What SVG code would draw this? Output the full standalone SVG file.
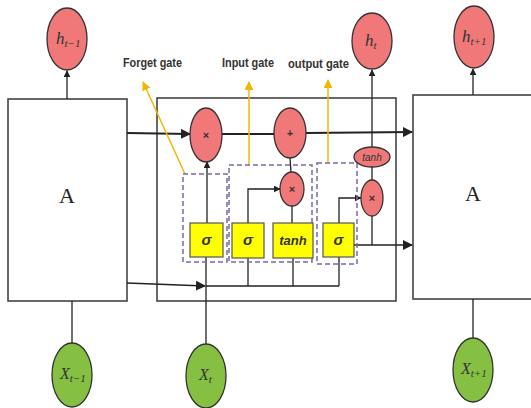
<svg xmlns="http://www.w3.org/2000/svg" width="531" height="408" viewBox="0 0 531 408">
<defs>
<marker id="ah" viewBox="0 0 10 10" refX="9" refY="5" markerWidth="7" markerHeight="7" markerUnits="userSpaceOnUse" orient="auto"><path d="M0,0 L10,5 L0,10 z" fill="#222"/></marker>
<marker id="ahl" viewBox="0 0 10 10" refX="9" refY="5" markerWidth="10" markerHeight="10" markerUnits="userSpaceOnUse" orient="auto"><path d="M0,0 L10,5 L0,10 z" fill="#222"/></marker>
<marker id="ay" viewBox="0 0 10 10" refX="9" refY="5" markerWidth="9" markerHeight="9" markerUnits="userSpaceOnUse" orient="auto"><path d="M0,0 L10,5 L0,10 z" fill="#F2B705"/></marker>
<style>
.box{fill:#fff;stroke:#444;stroke-width:1.6}
.red{fill:#F07878;stroke:#333;stroke-width:1.3}
.grn{fill:#86C043;stroke:#333;stroke-width:1.3}
.yel{fill:#FFFF00;stroke:#555;stroke-width:1.2}
.dash{fill:none;stroke:#7B68A6;stroke-width:1.5;stroke-dasharray:5,3}
.ln{fill:none;stroke:#222;stroke-width:1.3}
.thick{fill:none;stroke:#222;stroke-width:2}
.yl{fill:none;stroke:#F2B705;stroke-width:1.5}
.lbl{font-family:"Liberation Sans",Arial,sans-serif;font-size:13px;fill:#333;font-weight:bold}
.var{font-family:"Liberation Serif","Times New Roman",serif;font-style:italic;fill:#333}
.big{font-family:"Liberation Serif","Times New Roman",serif;font-size:22px;fill:#222}
.g{font-family:"Liberation Sans",Arial,sans-serif;font-style:italic;font-weight:bold;fill:#333}
.op{font-family:"Liberation Sans",Arial,sans-serif;font-weight:bold;font-size:11px;fill:#333}
</style>
</defs>
<g id="boxA1"><rect class="box" x="8" y="99" width="119" height="202"/><text class="big" x="67" y="203" text-anchor="middle">A</text></g>
<g id="cell"><rect class="box" x="157" y="98" width="239" height="203"/></g>
<g id="boxA2"><rect class="box" x="413" y="95" width="125" height="204"/><text class="big" x="473" y="201" text-anchor="middle">A</text></g>

<g id="connectors">
<line class="ln" x1="67" y1="99" x2="67" y2="71" marker-end="url(#ah)"/>
<line class="ln" x1="473" y1="95" x2="473" y2="69" marker-end="url(#ah)"/>
<line class="ln" x1="72" y1="301" x2="72" y2="343"/>
<line class="ln" x1="473" y1="299" x2="473" y2="338"/>
<line class="ln" x1="206" y1="344" x2="206" y2="257"/>
<line class="thick" x1="127" y1="133" x2="190" y2="134" marker-end="url(#ahl)"/>
<line class="thick" x1="222" y1="134" x2="274" y2="134"/>
<line class="thick" x1="306" y1="133" x2="412" y2="132" marker-end="url(#ahl)"/>
<line class="ln" x1="207" y1="223" x2="207" y2="162" marker-end="url(#ah)"/>
<polyline class="ln" points="248,223 248,189 280,189" marker-end="url(#ah)"/>
<line class="ln" x1="292" y1="223" x2="292" y2="206"/>
<line class="ln" x1="291" y1="172" x2="290" y2="158"/>
<polyline class="ln" points="339,223 339,198 361,198" marker-end="url(#ah)"/>
<polyline class="ln" points="372,216 372,245"/>
<line class="ln" x1="354" y1="245" x2="412" y2="245" marker-end="url(#ahl)"/>
<line class="ln" x1="372" y1="180" x2="372" y2="167"/>
<line class="ln" x1="372" y1="148" x2="372" y2="70" marker-end="url(#ah)"/>
<line class="ln" x1="127" y1="283" x2="205" y2="286" marker-end="url(#ahl)"/>
<line class="ln" x1="206" y1="286" x2="339" y2="286"/>
<line class="ln" x1="248" y1="286" x2="248" y2="258"/>
<line class="ln" x1="293" y1="286" x2="293" y2="258"/>
<line class="ln" x1="339" y1="286" x2="339" y2="257"/>
<line class="yl" x1="185" y1="174" x2="143" y2="82" marker-end="url(#ay)"/>
<line class="yl" x1="249" y1="165" x2="249" y2="82" marker-end="url(#ay)"/>
<line class="yl" x1="328" y1="163" x2="328" y2="80" marker-end="url(#ay)"/>
</g>

<g id="forget_gate"><rect class="dash" x="183" y="174" width="44" height="88"/><rect class="yel" x="190" y="223" width="33" height="34"/><text class="g" font-size="15" x="206.5" y="245" text-anchor="middle">σ</text></g>
<g id="input_gate"><rect class="dash" x="229" y="165" width="83" height="97"/><rect class="yel" x="232" y="223" width="32" height="35"/><text class="g" font-size="15" x="248" y="245" text-anchor="middle">σ</text><rect class="yel" x="273" y="223" width="40" height="35"/><text class="g" font-size="13" x="293" y="245" text-anchor="middle">tanh</text></g>
<g id="output_gate"><rect class="dash" x="317" y="163" width="40" height="101"/><rect class="yel" x="323" y="223" width="31" height="34"/><text class="g" font-size="15" x="338.5" y="245" text-anchor="middle">σ</text></g>

<g id="mul_forget"><ellipse class="red" cx="206" cy="135" rx="16" ry="27"/><text class="op" x="206" y="139" text-anchor="middle">×</text></g>
<g id="add"><ellipse class="red" cx="290" cy="133" rx="16" ry="25"/><text class="op" x="290" y="137" text-anchor="middle">+</text></g>
<g id="mul_input"><ellipse class="red" cx="292" cy="189" rx="12" ry="17"/><text class="op" x="292" y="193" text-anchor="middle">×</text></g>
<g id="tanh_out"><ellipse class="red" cx="372" cy="157" rx="18" ry="10"/><text class="g" font-size="10" font-weight="normal" x="372" y="161" text-anchor="middle" style="font-weight:normal">tanh</text></g>
<g id="mul_output"><ellipse class="red" cx="372" cy="198" rx="11" ry="18"/><text class="op" x="372" y="202" text-anchor="middle">×</text></g>

<g id="h_prev"><ellipse class="red" cx="67" cy="39" rx="20" ry="31"/><text class="var" x="56" y="44" font-size="17">h<tspan font-size="11" dy="3">t−1</tspan></text></g>
<g id="h_t"><ellipse class="red" cx="372" cy="41" rx="20" ry="28"/><text class="var" x="365" y="46" font-size="17">h<tspan font-size="11" dy="3">t</tspan></text></g>
<g id="h_next"><ellipse class="red" cx="474" cy="37" rx="20" ry="31"/><text class="var" x="462" y="42" font-size="17">h<tspan font-size="11" dy="3">t+1</tspan></text></g>
<g id="x_prev"><ellipse class="grn" cx="72" cy="375" rx="20" ry="32"/><text class="var" x="60" y="379" font-size="16">X<tspan font-size="11" dy="3">t−1</tspan></text></g>
<g id="x_t"><ellipse class="grn" cx="206" cy="376" rx="20" ry="32"/><text class="var" x="199" y="380" font-size="16">X<tspan font-size="11" dy="3">t</tspan></text></g>
<g id="x_next"><ellipse class="grn" cx="473" cy="370" rx="20" ry="32"/><text class="var" x="461" y="374" font-size="16">X<tspan font-size="11" dy="3">t+1</tspan></text></g>

<text class="lbl" x="123" y="67" textLength="59" lengthAdjust="spacingAndGlyphs">Forget gate</text>
<text class="lbl" x="222" y="67" textLength="52" lengthAdjust="spacingAndGlyphs">Input gate</text>
<text class="lbl" x="288" y="68" textLength="61" lengthAdjust="spacingAndGlyphs">output gate</text>
</svg>
